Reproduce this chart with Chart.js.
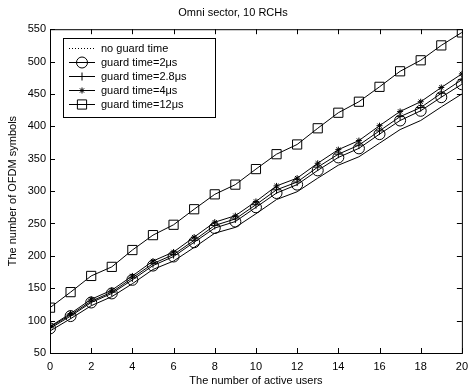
<!DOCTYPE html>
<html lang="en">
<head>
<meta charset="UTF-8">
<title>Omni sector, 10 RCHs</title>
<style>
    html, body { margin: 0; padding: 0; background: #fff; }
    #wrap { width: 475px; height: 391px; }
</style>
<script src="https://cdn.jsdelivr.net/npm/chart.js"></script>
</head>
<body>
<div id="wrap"><canvas id="ofdmChart" width="475" height="391"></canvas></div>
<script>
    // number of active users (x axis)
    const users = [0, 1, 2, 3, 4, 5, 6, 7, 8, 9, 10, 11, 12, 13, 14, 15, 16, 17, 18, 19, 20];

    // number of OFDM symbols
    const noGuard   = [84, 103, 123, 137, 157, 179, 192, 213, 235, 244, 265, 287, 299, 320, 340, 353, 374, 395, 409, 430, 450];
    const guard2    = [88, 107, 128, 142, 163, 185, 199, 221, 243, 253, 275, 297, 310, 332, 352, 366, 388, 409, 424, 445, 465];
    const guard2_8  = [90, 109, 130, 144, 166, 188, 202, 224, 247, 257, 279, 302, 314, 337, 357, 371, 393, 415, 429, 451, 472];
    const guard4    = [91, 111, 133, 147, 169, 192, 206, 229, 252, 262, 284, 308, 320, 343, 364, 378, 401, 423, 438, 460, 481];
    const guard12   = [120, 144, 169, 183, 209, 232, 248, 272, 295, 310, 334, 357, 372, 397, 421, 438, 461, 485, 502, 525, 545];

    const seriesNames = ['no guard time', 'guard time=2\u03bcs', 'guard time=2.8\u03bcs', 'guard time=4\u03bcs', 'guard time=12\u03bcs'];
    const xTicks = [0, 2, 4, 6, 8, 10, 12, 14, 16, 18, 20];
    const yTicks = [50, 100, 150, 200, 250, 300, 350, 400, 450, 500, 550];

    const FONT = "'Liberation Sans', Arial, Helvetica, sans-serif";

    function toPoints(values) {
        return users.map((u, i) => ({ x: u, y: values[i] }));
    }

    function makeSet(label, values, style, radius, legendDash) {
        return {
            label: label,
            data: toPoints(values),
            borderColor: '#000',
            borderWidth: 1,
            legendDash: legendDash || [],
            pointStyle: style,
            pointRadius: radius,
            pointBorderColor: '#000',
            pointBackgroundColor: 'rgba(0,0,0,0)',
            pointBorderWidth: 1,
            tension: 0,
            fill: false
        };
    }

    // draw one marker by hand (legend samples)
    function drawMarker(ctx, style, x, y, r) {
        ctx.beginPath();
        if (style === 'circle') {
            ctx.arc(x, y, r, 0, Math.PI * 2);
        } else if (style === 'rect') {
            const s = r * Math.SQRT1_2;
            ctx.rect(x - s, y - s, 2 * s, 2 * s);
        } else if (style === 'cross') {
            ctx.moveTo(x - r, y); ctx.lineTo(x + r, y);
            ctx.moveTo(x, y - r); ctx.lineTo(x, y + r);
        } else if (style === 'star') {
            ctx.moveTo(x - r, y); ctx.lineTo(x + r, y);
            ctx.moveTo(x, y - r); ctx.lineTo(x, y + r);
            const d = r * Math.SQRT1_2;
            ctx.moveTo(x - d, y - d); ctx.lineTo(x + d, y + d);
            ctx.moveTo(x - d, y + d); ctx.lineTo(x + d, y - d);
        }
        ctx.stroke();
    }

    // matlab style box with inward ticks on all four sides, plus the legend
    const framePlugin = {
        id: 'frame',
        afterDatasetsDraw(chart) {
            const { ctx, chartArea: a, scales } = chart;
            ctx.save();
            ctx.strokeStyle = '#000';
            ctx.lineWidth = 1;
            ctx.strokeRect(a.left + 0.5, a.top + 0.5, a.right - a.left, a.bottom - a.top);
            ctx.beginPath();
            const tl = 5;
            xTicks.forEach(v => {
                const px = Math.round(scales.x.getPixelForValue(v)) + 0.5;
                ctx.moveTo(px, a.bottom); ctx.lineTo(px, a.bottom - tl);
                ctx.moveTo(px, a.top); ctx.lineTo(px, a.top + tl);
            });
            yTicks.forEach(v => {
                const py = Math.round(scales.y.getPixelForValue(v)) + 0.5;
                ctx.moveTo(a.left, py); ctx.lineTo(a.left + tl, py);
                ctx.moveTo(a.right, py); ctx.lineTo(a.right - tl, py);
            });
            ctx.stroke();

            // legend box
            const lx = 63, ly = 38, lw = 152, lh = 79, rowH = 14.2;
            ctx.fillStyle = '#fff';
            ctx.fillRect(lx, ly, lw, lh);
            ctx.strokeRect(lx + 0.5, ly + 0.5, lw, lh);
            ctx.font = '11px ' + FONT;
            ctx.textBaseline = 'middle';
            chart.data.datasets.forEach((ds, i) => {
                const y = Math.round(ly + 9.5 + i * rowH) + 0.5;
                ctx.strokeStyle = '#000';
                ctx.setLineDash(ds.legendDash);
                ctx.beginPath();
                ctx.moveTo(lx + 6, y); ctx.lineTo(lx + 32, y);
                ctx.stroke();
                ctx.setLineDash([]);
                if (ds.pointRadius > 0) drawMarker(ctx, ds.pointStyle, lx + 19, y, ds.pointRadius);
                ctx.fillStyle = '#000';
                ctx.fillText(ds.label, lx + 38, y);
            });
            ctx.restore();
        }
    };

    const ctx = document.getElementById('ofdmChart').getContext('2d');
    new Chart(ctx, {
        type: 'line',
        data: {
            datasets: [
                makeSet(seriesNames[0], noGuard, 'circle', 0, [1, 2]),
                makeSet(seriesNames[1], guard2, 'circle', 5.5),
                makeSet(seriesNames[2], guard2_8, 'cross', 4),
                makeSet(seriesNames[3], guard4, 'star', 3),
                makeSet(seriesNames[4], guard12, 'rect', 6.5)
            ]
        },
        options: {
            responsive: false,
            devicePixelRatio: 1,
            animation: false,
            layout: { padding: { left: 0, right: 9, top: 0, bottom: 0 } },
            plugins: {
                legend: { display: false },
                tooltip: { enabled: false },
                title: {
                    display: true,
                    text: 'Omni sector, 10 RCHs',
                    color: '#000',
                    font: { family: FONT, size: 11, weight: 'normal' },
                    padding: { top: 6, bottom: 10 }
                }
            },
            scales: {
                x: {
                    type: 'linear',
                    min: 0,
                    max: 20,
                    afterBuildTicks: s => { s.ticks = xTicks.map(v => ({ value: v })); },
                    afterFit: s => { s.height = 38; },
                    grid: { display: false, drawTicks: false },
                    border: { display: false },
                    ticks: { color: '#000', padding: 7, maxRotation: 0, font: { family: FONT, size: 11 } },
                    title: {
                        display: true,
                        text: 'The number of active users',
                        color: '#000',
                        font: { family: FONT, size: 11 },
                        padding: { top: 2, bottom: 3 }
                    }
                },
                y: {
                    min: 50,
                    max: 550,
                    afterBuildTicks: s => { s.ticks = yTicks.map(v => ({ value: v })); },
                    afterFit: s => { s.width = 50; },
                    grid: { display: false, drawTicks: false },
                    border: { display: false },
                    ticks: { color: '#000', padding: 4, font: { family: FONT, size: 11 } },
                    title: {
                        display: true,
                        text: 'The number of OFDM symbols',
                        color: '#000',
                        font: { family: FONT, size: 11 },
                        padding: { top: 6, bottom: 0 }
                    }
                }
            }
        },
        plugins: [framePlugin]
    });
</script>
</body>
</html>
